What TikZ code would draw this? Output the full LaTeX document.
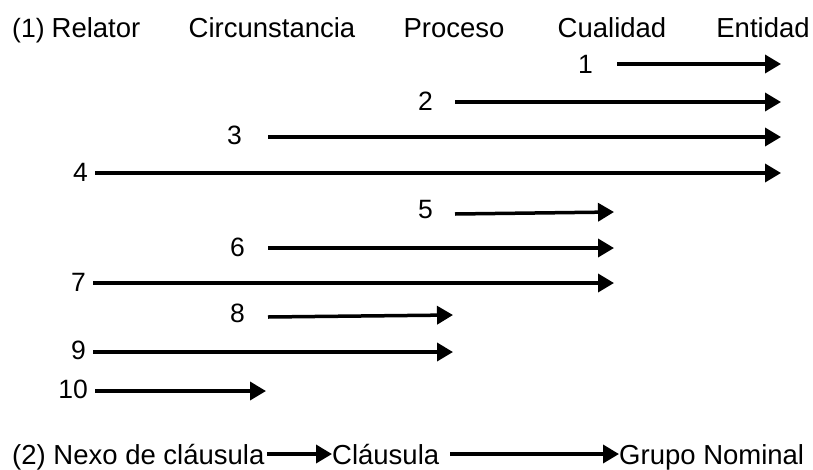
\documentclass[tikz,border=0pt]{standalone}
\usepackage{fontspec}
\setmainfont{Liberation Sans}
\usetikzlibrary{arrows.meta}
\begin{document}
\begin{tikzpicture}[x=1pt,y=-1pt,
  txt/.style={inner sep=0pt,font=\fontsize{26.5}{30}\selectfont},
  num/.style={txt,anchor=east},
  hdr/.style={txt,anchor=base,font=\fontsize{27.5}{31}\selectfont},
  low/.style={txt,anchor=base west,font=\fontsize{27.5}{31}\selectfont},
  arr/.style={line width=3.5pt,-{Triangle[length=16pt,width=18pt]}}]
\useasboundingbox (0,0) rectangle (813,469);
% column headings
\node[txt,anchor=base west] (h0) at (12,37) {(1)};
\node[hdr] (h1) at (96,37) {Relator};
\node[hdr] (h2) at (272,37) {Circunstancia};
\node[hdr] (h3) at (454,37) {Proceso};
\node[hdr] (h4) at (612,37) {Cualidad};
\node[hdr] (h5) at (763,37) {Entidad};
% row numbers
\node[num] (n1) at (593,64) {1};
\node[num] (n2) at (433,101) {2};
\node[num] (n3) at (242,135) {3};
\node[num] (n4) at (88,172) {4};
\node[num] (n5) at (433,210) {5};
\node[num] (n6) at (245,247) {6};
\node[num] (n7) at (86,282) {7};
\node[num] (n8) at (245,313) {8};
\node[num] (n9) at (86,350) {9};
\node[num] (n10) at (88,389) {10};
% start and end points of the arrows
\coordinate (s1) at (617,64);  \coordinate (e1) at (781,64);
\coordinate (s2) at (455,102); \coordinate (e2) at (781,102);
\coordinate (s3) at (268,137); \coordinate (e3) at (781,137);
\coordinate (s4) at (95,173);  \coordinate (e4) at (781,173);
\coordinate (s5) at (455,214); \coordinate (e5) at (614,212);
\coordinate (s6) at (268,248); \coordinate (e6) at (614,248);
\coordinate (s7) at (93,283);  \coordinate (e7) at (614,283);
\coordinate (s8) at (268,317); \coordinate (e8) at (453,315);
\coordinate (s9) at (93,352);  \coordinate (e9) at (453,352);
\coordinate (s10) at (95,391); \coordinate (e10) at (266,391);
\foreach \i in {1,...,10} {\draw[arr] (s\i) -- (e\i);}
% second chain
\node[low] (b1) at (12,464) {(2) Nexo de cláusula};
\node[low] (b2) at (332,464) {Cláusula};
\node[low] (b3) at (619,464) {Grupo Nominal};
\coordinate (c0) at (267,454);
\coordinate (c1) at (450,454);
\draw[arr] (c0) -- (b2.west |- c0);
\draw[arr] (c1) -- (b3.west |- c1);
\end{tikzpicture}
\end{document}
